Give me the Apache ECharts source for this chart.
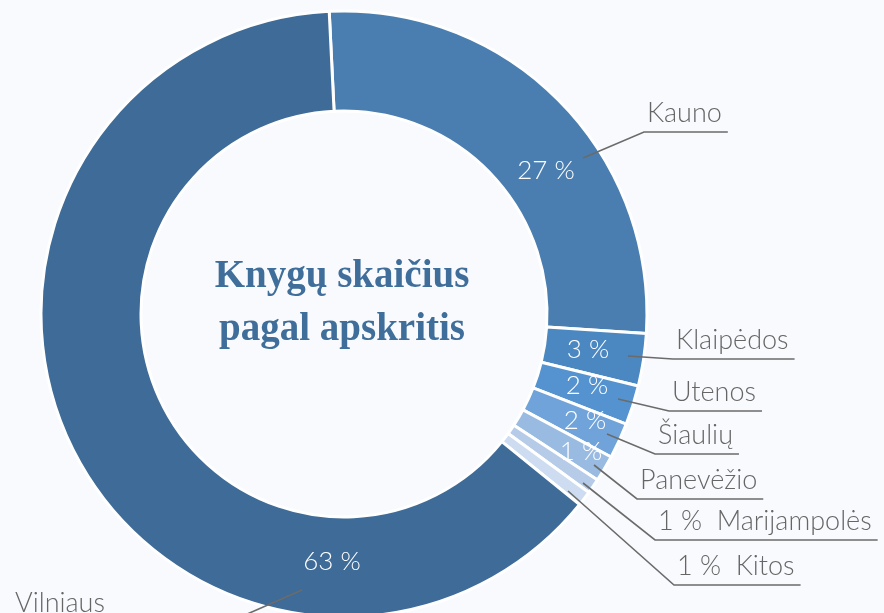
<!DOCTYPE html>
<html>
<head>
<meta charset="utf-8">
<script src="https://cdn.jsdelivr.net/npm/echarts@6/dist/echarts.min.js"></script>
<style>
  html, body { margin: 0; padding: 0; background: #f9fafd; }
  #chart { width: 884px; height: 613px; }
</style>
</head>
<body>
<div id="chart"></div>
<script>
// apskritys, clockwise from the top
const regions = ['Kauno', 'Klaipėdos', 'Utenos', 'Šiaulių', 'Panevėžio', 'Marijampolės', 'Kitos', 'Vilniaus']
const shares = [26.8, 2.8, 2.1, 1.9, 1.4, 0.8, 0.8, 63.4]
const colors = ['#4a7eb0', '#4b87c0', '#5493cf', '#6fa3d9', '#99bbe1', '#b5cbe8', '#cddcf0', '#3e6b97']
// thin slices carry the percentage in the outside label
const pctOutside = ['Marijampolės', 'Kitos']

// where the labels sit (text left/bottom) and where the leader line starts
const innerSpots = {
  'Kauno': [546, 171], 'Klaipėdos': [588, 350], 'Utenos': [587, 386],
  'Šiaulių': [585, 421], 'Panevėžio': [581, 452], 'Vilniaus': [332, 562]
}
const outerSpots = {
  'Kauno': { x: 647, y: 127, ax: 583, ay: 158 },
  'Klaipėdos': { x: 676, y: 354, ax: 628, ay: 356 },
  'Utenos': { x: 672, y: 406, ax: 618, ay: 399 },
  'Šiaulių': { x: 658, y: 449, ax: 607, ay: 434 },
  'Panevėžio': { x: 640, y: 494, ax: 594, ay: 465 },
  'Marijampolės': { x: 658, y: 535, ax: 583, ay: 483 },
  'Kitos': { x: 677, y: 580, ax: 568, ay: 491 },
  'Vilniaus': { x: 15, y: 617, ax: 302, ay: 590, bx: 229, left: true }
}

const pct = v => Math.round(v / shares.reduce((a, b) => a + b, 0) * 100)

const chartDom = document.getElementById('chart')
const myChart = echarts.init(chartDom)

const pieBase = {
  type: 'pie',
  center: [344, 314],
  radius: [203, 303],
  startAngle: 92.8,
  clockwise: true,
  avoidLabelOverlap: false,
  animation: false,
  silent: true
}

const option = {
  backgroundColor: '#f9fafd',
  graphic: [
    {
      type: 'text',
      x: 342,
      y: 303,
      style: {
        text: 'Knygų skaičius\npagal apskritis',
        fill: '#3f6e9b',
        font: 'bold 39px "Liberation Serif", serif',
        lineHeight: 53,
        align: 'center',
        verticalAlign: 'middle'
      }
    }
  ],
  series: [
    {
      ...pieBase,
      name: 'slices',
      z: 2,
      itemStyle: { borderColor: '#ffffff', borderWidth: 3 },
      label: {
        show: true,
        position: 'inside',
        color: '#ffffff',
        fontFamily: 'Lato',
        fontWeight: 300,
        fontSize: 26,
        formatter: p => (pctOutside.includes(p.name) ? '' : pct(p.value) + ' %')
      },
      labelLayout: p => {
        const s = innerSpots[regions[p.dataIndex]]
        if (!s) return {}
        return { x: s[0], y: s[1], align: 'center', verticalAlign: 'middle' }
      },
      data: regions.map((r, i) => ({ name: r, value: shares[i], itemStyle: { color: colors[i] } }))
    },
    {
      ...pieBase,
      name: 'labels',
      z: 4,
      itemStyle: { color: 'rgba(0,0,0,0)' },
      label: {
        show: true,
        position: 'outside',
        color: '#666666',
        fontFamily: 'Lato',
        fontWeight: 300,
        fontSize: 27,
        formatter: p => (pctOutside.includes(p.name) ? pct(p.value) + ' %  ' + p.name : p.name)
      },
      labelLine: {
        show: true,
        lineStyle: { color: '#6b6b6b', width: 1.6 }
      },
      labelLayout: p => {
        const s = outerSpots[regions[p.dataIndex]]
        if (!s) return {}
        const w = p.labelRect.width
        const uy = s.y + 5
        const pts = s.left
          ? [[s.ax, s.ay], [s.bx, uy], [s.x - 5, uy]]
          : [[s.ax, s.ay], [s.x - 3, uy], [s.x + w + 6, uy]]
        return { x: s.x, y: s.y, align: 'left', verticalAlign: 'bottom', labelLinePoints: pts }
      },
      data: regions.map((r, i) => ({ name: r, value: shares[i] }))
    }
  ]
}
option && myChart.setOption(option)
</script>
</body>
</html>
